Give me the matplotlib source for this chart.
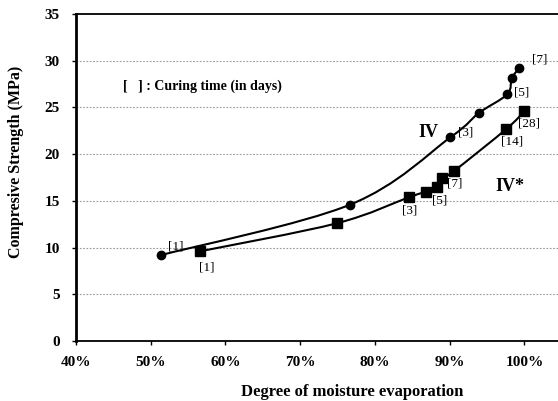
import matplotlib
matplotlib.use("Agg")
from matplotlib import pyplot as plt
from matplotlib.path import Path
from matplotlib.patches import PathPatch
from matplotlib.ticker import FuncFormatter
import numpy

plt.rcParams['font.family'] = ['Liberation Serif', 'DejaVu Serif']

# series IV (circles)
iv_x = [51.4, 76.7, 90.1, 93.9, 97.7, 98.3, 99.3]
iv_y = [9.2, 14.6, 21.8, 24.4, 26.4, 28.1, 29.2]

# series IV* (squares)
ivs_x = [56.6, 74.9, 84.6, 86.9, 88.3, 89.0, 90.6, 97.6, 100.0]
ivs_y = [9.6, 12.6, 15.4, 16.0, 16.5, 17.4, 18.2, 22.7, 24.6]

# curing-day labels: (text, x, y)
iv_labels = [("[1]", 53.3, 10.1), ("[3]", 92.1, 22.3), ("[5]", 99.6, 26.6), ("[7]", 102.1, 30.1)]
ivs_labels = [("[1]", 57.5, 7.9), ("[3]", 84.7, 14.0), ("[5]", 88.7, 15.0), ("[7]", 90.7, 16.9),
              ("[14]", 98.4, 21.3), ("[28]", 100.6, 23.3)]


def smooth_path(xs, ys):
    # catmull-rom style bezier through the points (like excel smoothed line)
    pts = numpy.column_stack([xs, ys]).astype(float)
    n = len(pts)
    verts = [pts[0]]
    codes = [Path.MOVETO]
    for i in range(n - 1):
        p0 = pts[i - 1] if i > 0 else pts[i]
        p1 = pts[i]
        p2 = pts[i + 1]
        p3 = pts[i + 2] if i + 2 < n else pts[i + 1]
        c1 = p1 + (p2 - p0) / 6.0
        c2 = p2 - (p3 - p1) / 6.0
        verts += [c1, c2, p2]
        codes += [Path.CURVE4] * 3
    return Path(verts, codes)


fig = plt.figure(figsize=(5.58, 4.01), dpi=100)
ax = fig.add_axes([76 / 558, 1 - 341 / 401, 1 - 76 / 558, 327 / 401])

for y in [5, 10, 15, 20, 25, 30]:
    ax.axhline(y, color='#999999', lw=0.8, ls=(0, (1.5, 1.5)), zorder=0)

ax.add_patch(PathPatch(smooth_path(iv_x, iv_y), fill=False, lw=1.5, color='black', zorder=2))
ax.add_patch(PathPatch(smooth_path(ivs_x, ivs_y), fill=False, lw=1.5, color='black', zorder=2))
ax.plot(iv_x, iv_y, 'o', color='black', ms=6, zorder=3)
ax.plot(ivs_x, ivs_y, 's', color='black', ms=6.5, zorder=3)

for t, x, y in iv_labels + ivs_labels:
    ax.text(x, y, t, fontsize=9.5, ha='center', va='center')

ax.text(87.1, 22.3, "IV", fontsize=13, fontweight='bold', ha='center', va='center')
ax.text(98.1, 16.5, "IV*", fontsize=13, fontweight='bold', ha='center', va='center')
ax.text(46.3, 27.3, "[   ] : Curing time (in days)", fontsize=10, fontweight='bold', ha='left', va='center')

ax.set_xlim(40, 104.5)
ax.set_ylim(0, 35)
ax.set_xticks([40, 50, 60, 70, 80, 90, 100])
ax.set_yticks([0, 5, 10, 15, 20, 25, 30, 35])
ax.xaxis.set_major_formatter(FuncFormatter(lambda v, p: "%d%%" % v))
for lab in ax.get_xticklabels() + ax.get_yticklabels():
    lab.set_fontweight('bold')
ax.tick_params(axis='both', labelsize=11, length=3, width=1, direction='out')
ax.tick_params(axis='x', pad=8)
ax.tick_params(axis='y', pad=8.5)

ax.spines['right'].set_visible(False)
ax.spines['left'].set_linewidth(2)
ax.spines['bottom'].set_linewidth(1.3)
ax.spines['top'].set_linewidth(1.3)

ax.set_xlabel("Degree of moisture evaporation", fontsize=12, fontweight='bold')
ax.xaxis.set_label_coords(276 / 482, -0.13)
ax.set_ylabel("Compresive Strength (MPa)", fontsize=11.5, fontweight='bold')
ax.yaxis.set_label_coords(-0.108, 0.547)

fig.savefig("out.png", dpi=100)
